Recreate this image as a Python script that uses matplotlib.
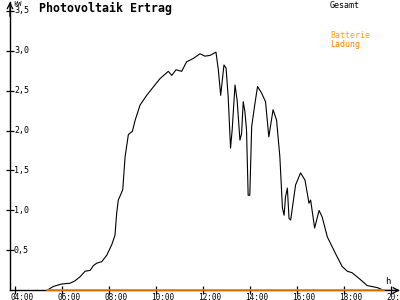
import matplotlib
matplotlib.use("Agg")
import matplotlib.pyplot as plt
import matplotlib.transforms as mtransforms

# PV output (kW) over the day, time in decimal hours
hours = [5.34, 5.62, 5.97, 6.33, 6.54, 6.75, 6.97, 7.18, 7.32, 7.46, 7.68, 7.89,
         8.10, 8.24, 8.31, 8.38, 8.50, 8.57, 8.67, 8.81, 8.98, 9.10, 9.31, 9.59,
         9.94, 10.16, 10.51, 10.66, 10.84, 11.08, 11.29, 11.57, 11.86, 12.07,
         12.29, 12.54, 12.64, 12.74, 12.88, 12.97, 13.06, 13.16, 13.23, 13.35,
         13.44, 13.56, 13.63, 13.70, 13.77, 13.84, 13.91, 13.98, 14.06, 14.20,
         14.31, 14.48, 14.65, 14.79, 14.97, 15.12, 15.26, 15.37, 15.44, 15.50,
         15.58, 15.65, 15.72, 15.93, 16.14, 16.33, 16.50, 16.57, 16.74, 16.93,
         17.06, 17.28, 17.63, 17.91, 18.13, 18.34, 18.63, 18.98, 19.41, 19.69]
gesamt = [0.0, 0.05, 0.08, 0.09, 0.12, 0.17, 0.24, 0.25, 0.31, 0.34, 0.36, 0.44,
          0.57, 0.69, 0.96, 1.13, 1.21, 1.26, 1.67, 1.95, 1.99, 2.13, 2.32, 2.44,
          2.57, 2.65, 2.74, 2.69, 2.76, 2.74, 2.86, 2.90, 2.96, 2.93,
          2.94, 2.98, 2.76, 2.44, 2.82, 2.78, 2.42, 1.78, 2.01, 2.57,
          2.38, 1.88, 1.96, 2.36, 2.24, 2.01, 1.19, 1.19, 2.05, 2.34,
          2.55, 2.47, 2.36, 1.92, 2.26, 2.13, 1.67, 1.03, 0.94, 1.17,
          1.28, 0.90, 0.88, 1.32, 1.47, 1.38, 1.09, 1.13, 0.78, 1.00,
          0.92, 0.67, 0.46, 0.30, 0.24, 0.22, 0.15, 0.06, 0.035, 0.0]
ladung = [0.0] * len(hours)

xticks = [4, 6, 8, 10, 12, 14, 16, 18, 20]
xlabels = ["04:00", "06:00", "08:00", "10:00", "12:00", "14:00", "16:00", "18:00", "20:00"]
yticks = [0.5, 1.0, 1.5, 2.0, 2.5, 3.0, 3.5]
ylabels = ["0,5", "1,0", "1,5", "2,0", "2,5", "3,0", "3,5"]

fig = plt.figure(figsize=(4, 3), dpi=100)
ax = fig.add_axes([0.025, 0.032, 0.97, 0.962])
ax.set_xlim(3.77, 20.29)
ax.set_ylim(0, 3.61)

ax.plot(hours, gesamt, color="black", lw=0.8, clip_on=False)
ax.plot(hours, ladung, color="#ff8000", lw=1.2, clip_on=False, zorder=5)

for s in ["top", "right"]:
    ax.spines[s].set_visible(False)
ax.spines["left"].set_linewidth(1.0)
ax.spines["bottom"].set_linewidth(1.0)

ax.set_xticks(xticks)
ax.set_yticks(yticks)
ax.set_xticklabels([])
ax.set_yticklabels([])
ax.tick_params(direction="inout", length=6, width=0.9, color="black")

mono = "DejaVu Sans Mono"
off_x = mtransforms.ScaledTranslation(-5 / 100, -2.5 / 100, fig.dpi_scale_trans)
for t, lab in zip(xticks, xlabels):
    ax.text(t, 0, lab, transform=ax.transData + off_x, ha="left", va="top",
            fontsize=5.6, family=mono, clip_on=False)
off_y = mtransforms.ScaledTranslation(4 / 100, 0, fig.dpi_scale_trans)
for v, lab in zip(yticks, ylabels):
    ax.text(3.77, v, lab, transform=ax.transData + off_y, ha="left", va="center",
            fontsize=6, family=mono)

# axis arrows
ax.annotate("", xy=(0, 1.0), xycoords="axes fraction", xytext=(0, 0.95),
            arrowprops=dict(arrowstyle="->", lw=0.9, color="black",
                            shrinkA=0, shrinkB=0))
ax.annotate("", xy=(1.005, 0), xycoords="axes fraction", xytext=(0.95, 0),
            arrowprops=dict(arrowstyle="->", lw=0.9, color="black",
                            shrinkA=0, shrinkB=0))

fig.text(13 / 400, 1 - 4 / 300, "kW", fontsize=5, family=mono, va="center", ha="left")
fig.text(39 / 400, 1 - 8 / 300, "Photovoltaik Ertrag", fontsize=8.4, family=mono,
         weight="bold", va="center", ha="left")
fig.text(330 / 400, 1 - 5 / 300, "Gesamt", fontsize=6, family=mono, va="center", ha="left")
fig.text(330 / 400, 1 - 36 / 300, "Batterie", fontsize=6, family=mono, va="center",
         ha="left", color="#ffa500")
fig.text(330 / 400, 1 - 44 / 300, "Ladung", fontsize=6, family=mono, va="center",
         ha="left", color="#ff8000")
fig.text(385 / 400, 1 - 282 / 300, "h", fontsize=6.5, family=mono, va="center", ha="left")

fig.savefig("out.png", dpi=100)
